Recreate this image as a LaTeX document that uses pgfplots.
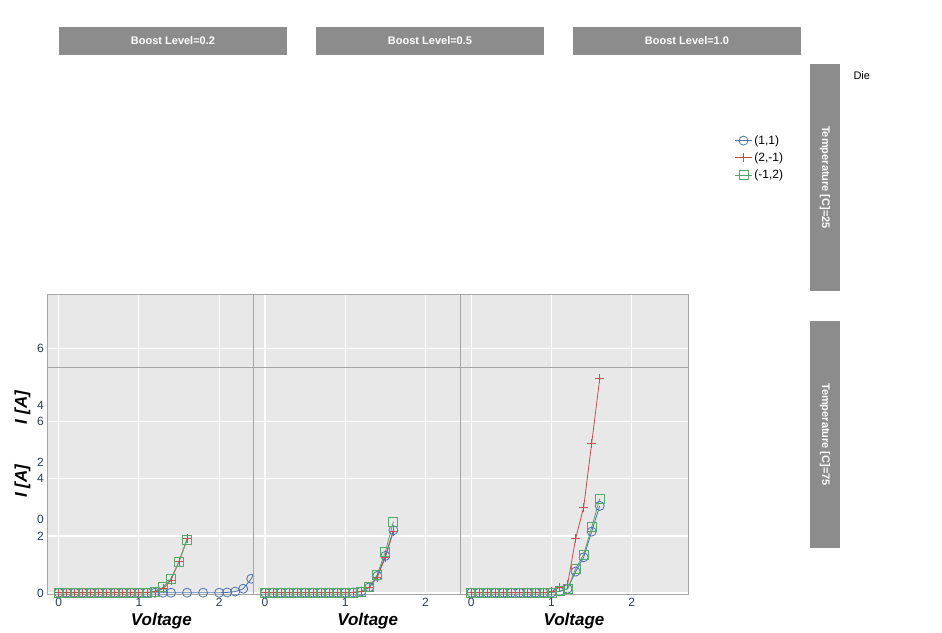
\documentclass[border=0pt]{standalone}
\usepackage{pgfplots}
\pgfplotsset{compat=1.18}
\usepackage{fontspec}
\setmainfont{Liberation Sans}
\definecolor{cb}{HTML}{4C72B0}
\definecolor{cr}{HTML}{C44E52}
\definecolor{cg}{HTML}{55A868}
\definecolor{bg}{HTML}{E8E8E8}
\definecolor{strip}{HTML}{8C8C8C}
\definecolor{tk}{HTML}{2A3A5A}
\pgfplotsset{panel/.style={scale only axis,width=228pt,height=227pt,anchor=south west,
 xmin=-0.14,xmax=2.7,ymin=-0.05,ymax=7.9,axis background/.style={fill=bg},
 grid=major,grid style={white,line width=1.2pt},axis line style={gray!70},
 xtick={0,1,2},ytick={0,2,4,6},tick style={draw=none},
 tick label style={font=\fontsize{12}{12}\selectfont,text=tk},
 /pgf/number format/assume math mode=true,
 every axis plot/.append style={line width=0.8pt,mark size=4.5pt}},
 nox/.style={xticklabels={}}, noy/.style={yticklabels={}}}
\begin{document}
\begin{tikzpicture}[x=1pt,y=1pt]
\path (0,0) rectangle (942,613);
% panel 1
\begin{axis}[panel,nox,at={(59,322)},ylabel={\fontsize{17}{17}\selectfont\bfseries\itshape I [A]}]
\addplot[cb,mark=o] coordinates {(0,0.01)(0.1,0.01)(0.2,0.01)(0.3,0.01)(0.4,0.01)(0.5,0.01)(0.6,0.01)(0.7,0.01)(0.8,0.01)(0.9,0.01)(1.0,0.01)(1.1,0.02)(1.2,0.05)(1.3,0.15)(1.4,0.3)(1.5,0.75)(1.6,1.25)};
\addplot[cr,mark=+] coordinates {(0,0.01)(0.1,0.01)(0.2,0.01)(0.3,0.01)(0.4,0.01)(0.5,0.01)(0.6,0.01)(0.7,0.01)(0.8,0.01)(0.9,0.01)(1.0,0.01)(1.1,0.02)(1.2,0.05)(1.3,0.2)(1.4,0.3)(1.5,0.7)(1.6,1.3)};
\addplot[cg,mark=square] coordinates {(0,0.01)(0.1,0.01)(0.2,0.01)(0.3,0.01)(0.4,0.01)(0.5,0.01)(0.6,0.01)(0.7,0.01)(0.8,0.01)(0.9,0.01)(1.0,0.01)(1.1,0.02)(1.2,0.05)(1.3,0.2)(1.4,0.6)(1.5,1.2)(1.6,1.2)};
\end{axis}
% panel 2
\begin{axis}[panel,nox,noy,at={(316,322)}]
\addplot[cb,mark=o] coordinates {(0,0.01)(0.1,0.01)(0.2,0.01)(0.3,0.01)(0.4,0.01)(0.5,0.01)(0.6,0.01)(0.7,0.01)(0.8,0.01)(0.9,0.01)(1.0,0.01)(1.1,0.02)(1.2,0.04)(1.3,0.1)(1.4,0.35)(1.5,0.85)(1.6,1.45)};
\addplot[cr,mark=+] coordinates {(0,0.01)(0.1,0.01)(0.2,0.01)(0.3,0.01)(0.4,0.01)(0.5,0.01)(0.6,0.01)(0.7,0.01)(0.8,0.01)(0.9,0.01)(1.0,0.01)(1.1,0.02)(1.2,0.04)(1.3,0.12)(1.4,0.4)(1.5,0.9)(1.6,1.4)};
\addplot[cg,mark=square] coordinates {(0,0.01)(0.1,0.01)(0.2,0.01)(0.3,0.01)(0.4,0.01)(0.5,0.01)(0.6,0.01)(0.7,0.01)(0.8,0.01)(0.9,0.01)(1.0,0.01)(1.1,0.02)(1.2,0.05)(1.3,0.15)(1.4,0.4)(1.5,1.0)(1.6,1.65)};
\end{axis}
% panel 3
\begin{axis}[panel,nox,noy,at={(573,322)}]
\addplot[cb,mark=o] coordinates {(0,0.01)(0.1,0.01)(0.2,0.01)(0.3,0.01)(0.4,0.01)(0.5,0.01)(0.6,0.01)(0.7,0.01)(0.8,0.01)(0.9,0.01)(1.0,0.02)(1.1,0.05)(1.2,0.1)(1.3,0.5)(1.4,0.8)(1.5,1.45)(1.6,2.05)};
\addplot[cr,mark=+] coordinates {(0,0.01)(0.1,0.01)(0.2,0.01)(0.3,0.01)(0.4,0.01)(0.5,0.01)(0.6,0.01)(0.7,0.01)(0.8,0.01)(0.9,0.01)(1.0,0.02)(1.1,0.1)(1.2,0.2)(1.3,1.3)(1.4,2.0)(1.5,3.5)(1.6,5.0)};
\addplot[cg,mark=square] coordinates {(0,0.01)(0.1,0.01)(0.2,0.01)(0.3,0.01)(0.4,0.01)(0.5,0.01)(0.6,0.01)(0.7,0.01)(0.8,0.01)(0.9,0.01)(1.0,0.02)(1.1,0.05)(1.2,0.1)(1.3,0.55)(1.4,0.85)(1.5,1.55)(1.6,2.2)};
\end{axis}
% panel 4
\begin{axis}[panel,at={(59,65)},ylabel={\fontsize{17}{17}\selectfont\bfseries\itshape I [A]},xlabel={\fontsize{17}{17}\selectfont\bfseries\itshape Voltage}]
\addplot[cb,mark=o] coordinates {(0,0.01)(0.1,0.01)(0.2,0.01)(0.3,0.01)(0.4,0.01)(0.5,0.01)(0.6,0.01)(0.7,0.01)(0.8,0.01)(0.9,0.01)(1.0,0.01)(1.1,0.01)(1.2,0.01)(1.3,0.01)(1.4,0.01)(1.6,0.01)(1.8,0.01)(2.0,0.01)(2.1,0.02)(2.2,0.05)(2.3,0.15)(2.4,0.5)(2.5,1.1)(2.6,1.9)};
\addplot[cr,mark=+] coordinates {(0,0.01)(0.1,0.01)(0.2,0.01)(0.3,0.01)(0.4,0.01)(0.5,0.01)(0.6,0.01)(0.7,0.01)(0.8,0.01)(0.9,0.01)(1.0,0.01)(1.1,0.02)(1.2,0.05)(1.3,0.15)(1.4,0.45)(1.5,1.1)(1.6,1.9)};
\addplot[cg,mark=square] coordinates {(0,0.01)(0.1,0.01)(0.2,0.01)(0.3,0.01)(0.4,0.01)(0.5,0.01)(0.6,0.01)(0.7,0.01)(0.8,0.01)(0.9,0.01)(1.0,0.01)(1.1,0.02)(1.2,0.05)(1.3,0.2)(1.4,0.5)(1.5,1.1)(1.6,1.85)};
\end{axis}
% panel 5
\begin{axis}[panel,noy,at={(316,65)},xlabel={\fontsize{17}{17}\selectfont\bfseries\itshape Voltage}]
\addplot[cb,mark=o] coordinates {(0,0.01)(0.1,0.01)(0.2,0.01)(0.3,0.01)(0.4,0.01)(0.5,0.01)(0.6,0.01)(0.7,0.01)(0.8,0.01)(0.9,0.01)(1.0,0.01)(1.1,0.02)(1.2,0.05)(1.3,0.2)(1.4,0.6)(1.5,1.3)(1.6,2.2)};
\addplot[cr,mark=+] coordinates {(0,0.01)(0.1,0.01)(0.2,0.01)(0.3,0.01)(0.4,0.01)(0.5,0.01)(0.6,0.01)(0.7,0.01)(0.8,0.01)(0.9,0.01)(1.0,0.01)(1.1,0.02)(1.2,0.05)(1.3,0.2)(1.4,0.55)(1.5,1.25)(1.6,2.15)};
\addplot[cg,mark=square] coordinates {(0,0.01)(0.1,0.01)(0.2,0.01)(0.3,0.01)(0.4,0.01)(0.5,0.01)(0.6,0.01)(0.7,0.01)(0.8,0.01)(0.9,0.01)(1.0,0.01)(1.1,0.02)(1.2,0.05)(1.3,0.2)(1.4,0.65)(1.5,1.45)(1.6,2.5)};
\end{axis}
% panel 6
\begin{axis}[panel,noy,at={(573,65)},xlabel={\fontsize{17}{17}\selectfont\bfseries\itshape Voltage},
 legend style={at={(1.19,2.04)},anchor=north west,draw=none,fill=none,font=\fontsize{12}{12}\selectfont,row sep=3pt},
 legend cell align=left]
\addplot[cb,mark=o] coordinates {(0,0.01)(0.1,0.01)(0.2,0.01)(0.3,0.01)(0.4,0.01)(0.5,0.01)(0.6,0.01)(0.7,0.01)(0.8,0.01)(0.9,0.01)(1.0,0.02)(1.1,0.05)(1.2,0.15)(1.3,0.75)(1.4,1.25)(1.5,2.15)(1.6,3.05)};
\addplot[cr,mark=+] coordinates {(0,0.01)(0.1,0.01)(0.2,0.01)(0.3,0.01)(0.4,0.01)(0.5,0.01)(0.6,0.01)(0.7,0.01)(0.8,0.01)(0.9,0.01)(1.0,0.05)(1.1,0.2)(1.2,0.3)(1.3,1.9)(1.4,3.0)(1.5,5.25)(1.6,7.5)};
\addplot[cg,mark=square] coordinates {(0,0.01)(0.1,0.01)(0.2,0.01)(0.3,0.01)(0.4,0.01)(0.5,0.01)(0.6,0.01)(0.7,0.01)(0.8,0.01)(0.9,0.01)(1.0,0.02)(1.1,0.07)(1.2,0.15)(1.3,0.85)(1.4,1.35)(1.5,2.3)(1.6,3.3)};
\legend{(1,1),(2,-1),(-1,2)}
\end{axis}
% strips
\foreach \x/\t in {59/0.2,316/0.5,573/1.0}{
 \fill[strip] (\x,558) rectangle ++(228,28);
 \node[white,font=\fontsize{11}{11}\selectfont\bfseries] at (\x+114,572) {Boost Level=\t};}
\foreach \y/\t in {322/25,65/75}{
 \fill[strip] (810,\y) rectangle ++(30,227);
 \node[white,rotate=-90,font=\fontsize{11}{11}\selectfont\bfseries] at (825,\y+113.5) {Temperature [C]=\t};}
\node[anchor=west,font=\fontsize{11}{11}\selectfont] at (850,537) {Die};
\end{tikzpicture}
\end{document}
